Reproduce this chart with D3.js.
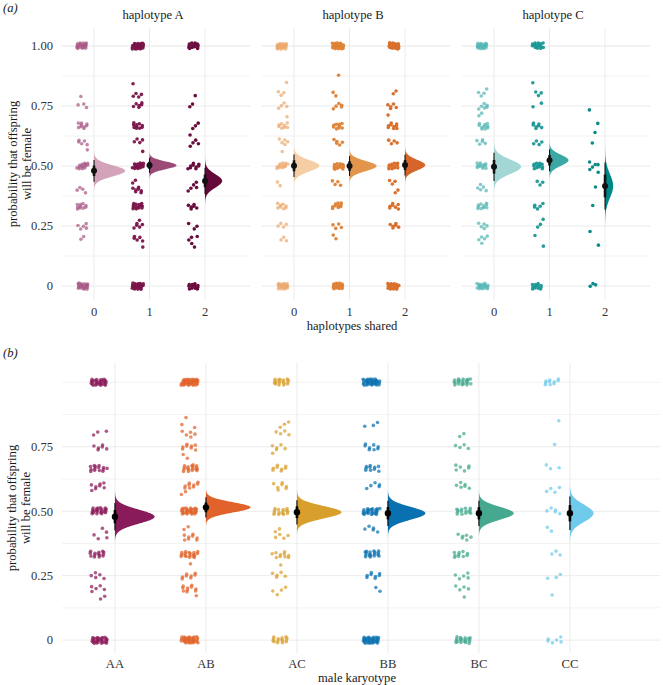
<!DOCTYPE html>
<html><head><meta charset="utf-8">
<script src="https://cdn.jsdelivr.net/npm/d3@7"></script>
<style>
body{margin:0;background:#fff}
svg{display:block}
</style>
</head><body><svg id="c" width="663" height="685" font-family="'Liberation Serif', 'Times New Roman', 'DejaVu Serif', serif"></svg>
<script>
// ---------------- DATA ----------------
const haplotypes = ["haplotype A", "haplotype B", "haplotype C"];
const sharedLevels = ["0", "1", "2"];
const karyotypes = ["AA", "AB", "AC", "BB", "BC", "CC"];
const yTicksA = [0, 0.25, 0.5, 0.75, 1];
const yTickLabelsA = ["0", "0.25", "0.50", "0.75", "1.00"];
const yTicksB = [0, 0.25, 0.5, 0.75];
const yTickLabelsB = ["0", "0.25", "0.50", "0.75"];
const yMinorGrid = [0.125, 0.375, 0.625, 0.875, 1];

// observations: [proportion female, number of males]
const hapA0 = [[1,22],[0.8,1],[0.75,3],[0.667,9],[0.6,5],[0.571,1],[0.5,14],[0.4,4],[0.333,10],[0.25,5],[0.2,2],[0,22]];
const hapA1 = [[1,28],[0.833,1],[0.8,4],[0.75,6],[0.667,10],[0.6,4],[0.571,1],[0.5,18],[0.429,2],[0.4,7],[0.333,14],[0.286,1],[0.25,5],[0.2,5],[0.167,1],[0,25]];
const hapA2 = [[1,14],[0.8,1],[0.75,2],[0.667,3],[0.625,1],[0.6,3],[0.571,1],[0.5,9],[0.429,2],[0.4,3],[0.333,6],[0.25,3],[0.2,3],[0.167,2],[0,12]];
const hapB0 = [[1,22],[0.857,1],[0.8,3],[0.75,4],[0.7,1],[0.667,8],[0.6,5],[0.556,1],[0.5,12],[0.429,2],[0.333,8],[0.25,4],[0.2,3],[0,20]];
const hapB1 = [[1,24],[0.875,1],[0.8,2],[0.75,5],[0.667,9],[0.6,5],[0.5,14],[0.429,4],[0.333,10],[0.25,4],[0.2,2],[0,20]];
const hapB2 = [[1,24],[0.8,2],[0.75,5],[0.7,1],[0.667,9],[0.6,4],[0.5,12],[0.429,3],[0.4,2],[0.333,7],[0.25,6],[0,20]];
const hapC0 = [[1,20],[0.833,1],[0.8,3],[0.75,6],[0.714,2],[0.667,10],[0.6,5],[0.5,12],[0.429,1],[0.4,4],[0.333,10],[0.25,5],[0.2,4],[0.167,1],[0,18]];
const hapC1 = [[1,16],[0.857,1],[0.8,3],[0.75,2],[0.667,7],[0.6,4],[0.5,12],[0.429,3],[0.333,5],[0.286,1],[0.25,2],[0.2,1],[0.167,1],[0,12]];
const hapC2 = [[0.738,1],[0.667,1],[0.64,1],[0.608,1],[0.514,2],[0.5,2],[0.475,2],[0.425,1],[0.333,1],[0.236,1],[0.164,1],[0.01,1],[0,2]];

const karAA = [[1,30],[0.8,3],[0.75,6],[0.667,14],[0.6,7],[0.571,1],[0.5,24],[0.429,2],[0.4,3],[0.333,14],[0.25,5],[0.2,5],[0.167,2],[0,30]];
const karAB = [[1,40],[0.875,1],[0.833,2],[0.8,5],[0.75,8],[0.714,2],[0.667,18],[0.6,9],[0.571,2],[0.5,30],[0.429,2],[0.4,8],[0.333,18],[0.286,1],[0.25,8],[0.2,10],[0.167,1],[0,35]];
const karAC = [[1,18],[0.857,1],[0.833,2],[0.8,4],[0.75,5],[0.714,1],[0.667,8],[0.6,6],[0.583,1],[0.5,15],[0.429,2],[0.4,4],[0.333,10],[0.286,1],[0.25,5],[0.2,3],[0.167,1],[0,15]];
const karBB = [[1,35],[0.833,3],[0.75,8],[0.667,10],[0.6,5],[0.5,25],[0.429,5],[0.333,18],[0.25,8],[0.2,2],[0,35]];
const karBC = [[1,22],[0.8,2],[0.75,4],[0.667,6],[0.6,6],[0.5,14],[0.4,6],[0.333,10],[0.25,5],[0.2,4],[0.18,1],[0,20]];
const karCC = [[1,10],[0.857,1],[0.75,1],[0.667,3],[0.583,4],[0.5,5],[0.429,2],[0.333,3],[0.25,3],[0.167,1],[0,6]];

// posterior summaries (mean, sd, relative slab peak)
const meanA = [[0.480, 0.503, 0.438], [0.501, 0.500, 0.504], [0.497, 0.524, 0.417]];
const sdA   = [[0.023, 0.016, 0.028], [0.024, 0.021, 0.022], [0.030, 0.023, 0.050]];
const peakA = [[1.00, 0.87, 0.55], [0.81, 0.87, 0.65], [0.87, 0.61, 0.26]];
const meanB = [0.479, 0.515, 0.496, 0.492, 0.492, 0.492];
const sdB   = [0.027, 0.020, 0.024, 0.025, 0.025, 0.033];
const peakB = [0.89, 1.00, 1.00, 0.84, 0.78, 0.53];

// ---------------- STYLE ----------------
const slabFillA = [["#d3a3b9", "#9b4a78", "#630a3b"], ["#f5cea6", "#e3954b", "#d5652a"], ["#a3d7d5", "#3ba8a4", "#008888"]];
const pointColA = [["#a85683", "#7a1449", "#6a0c3e"], ["#eba769", "#de8236", "#d9702c"], ["#4fb4b2", "#1b9896", "#0b8c8a"]];
const pointAlphaA = [0.7, 0.95, 1];
const colB = ["#8a1b5a", "#e1622a", "#d89f2c", "#0a71b0", "#44a98f", "#6fcaec"];

const svg = d3.select("#c");
const txt = "#1a1a1a", tickCol = "#333", grid = "#ebebeb";
const FS = 12.6;

const pointsAll = [hapA0, hapA1, hapA2, hapB0, hapB1, hapB2, hapC0, hapC1, hapC2];
const pointsB = [karAA, karAB, karAC, karBB, karBC, karCC];

function expand(arr) { const out = []; arr.forEach(([v, n]) => { for (let k = 0; k < n; k++) out.push(v); }); return out; }
function frac(x) { return x - Math.floor(x); }
function normShape(mean, sd) {
  const pts = [];
  for (let i = 0; i <= 120; i++) {
    const v = mean - 3.6 * sd + (7.2 * sd) * i / 120;
    const z = (v - mean) / sd;
    pts.push({ v, d: Math.exp(-0.5 * z * z) });
  }
  return pts;
}

// ---------------- PANEL (a) ----------------
const yA = d3.scaleLinear().domain([-0.058, 1.075]).range([300, 28]);
const facetX = [[62, 250], [262, 450], [462, 650]];
const slabMaxA = 0.56;

svg.append("text").attr("x", 3).attr("y", 12).attr("font-size", FS).attr("font-style", "italic").attr("fill", txt).text("(a)");

haplotypes.forEach((h, f) => {
  const x = d3.scaleLinear().domain([-0.577, 2.81]).range(facetX[f]);
  const g = svg.append("g");
  yMinorGrid.forEach(v => g.append("line").attr("x1", facetX[f][0]).attr("x2", facetX[f][1]).attr("y1", yA(v)).attr("y2", yA(v)).attr("stroke", grid).attr("stroke-width", 0.6));
  yTicksA.forEach(v => g.append("line").attr("x1", facetX[f][0]).attr("x2", facetX[f][1]).attr("y1", yA(v)).attr("y2", yA(v)).attr("stroke", grid).attr("stroke-width", 1));
  sharedLevels.forEach((s, i) => g.append("line").attr("x1", x(i)).attr("x2", x(i)).attr("y1", 28).attr("y2", 300).attr("stroke", grid).attr("stroke-width", 1));
  g.append("text").attr("x", (facetX[f][0] + facetX[f][1]) / 2 - 3).attr("y", 18.5).attr("text-anchor", "middle").attr("font-size", FS).attr("fill", txt).text(h);
  sharedLevels.forEach((s, i) => g.append("text").attr("x", x(i)).attr("y", 315.5).attr("text-anchor", "middle").attr("font-size", FS).attr("fill", tickCol).text(s));
  sharedLevels.forEach((s, i) => {
    const vals = expand(pointsAll[f * 3 + i]);
    const seed = (f * 3 + i) * 0.173;
    g.append("g").selectAll("circle").data(vals).join("circle")
      .attr("cx", (v, k) => x(i - 0.21 + (frac(seed + (k + 1) * 0.7548776662) * 2 - 1) * 0.1))
      .attr("cy", (v, k) => yA(v + (frac(seed * 2 + (k + 1) * 0.5698402910) * 2 - 1) * 0.013))
      .attr("r", 1.8)
      .attr("fill", pointColA[f][i]).attr("fill-opacity", pointAlphaA[i]);
  });
  sharedLevels.forEach((s, i) => {
    const m = meanA[f][i], sd = sdA[f][i], pk = peakA[f][i];
    const area = d3.area().x0(x(i)).x1(d => x(i + slabMaxA * pk * d.d)).y(d => yA(d.v));
    g.append("path").attr("d", area(normShape(m, sd))).attr("fill", slabFillA[f][i]);
    g.append("line").attr("x1", x(i)).attr("x2", x(i)).attr("y1", yA(m - 1.96 * sd)).attr("y2", yA(m + 1.96 * sd)).attr("stroke", "#111").attr("stroke-width", 1.1);
    g.append("line").attr("x1", x(i)).attr("x2", x(i)).attr("y1", yA(m - 0.95 * sd)).attr("y2", yA(m + 0.95 * sd)).attr("stroke", "#111").attr("stroke-width", 2.6);
    g.append("circle").attr("cx", x(i)).attr("cy", yA(m)).attr("r", 3).attr("fill", "#111");
  });
});
yTicksA.forEach((v, i) => svg.append("text").attr("x", 53).attr("y", yA(v) + 4.3).attr("text-anchor", "end").attr("font-size", FS).attr("fill", tickCol).text(yTickLabelsA[i]));
svg.append("text").attr("transform", "translate(17,164) rotate(-90)").attr("text-anchor", "middle").attr("font-size", FS).attr("fill", txt).text("probability that offspring");
svg.append("text").attr("transform", "translate(31,164) rotate(-90)").attr("text-anchor", "middle").attr("font-size", FS).attr("fill", txt).text("will be female");
svg.append("text").attr("x", 352).attr("y", 329.5).attr("text-anchor", "middle").attr("font-size", FS).attr("fill", txt).text("haplotypes shared");

// ---------------- PANEL (b) ----------------
const yB = d3.scaleLinear().domain([-0.05, 1.075]).range([653, 363]);
const xB = d3.scaleLinear().domain([-0.582, 5.99]).range([62, 660]);
const slabMaxB = 0.49;
const gb = svg.append("g");
svg.append("text").attr("x", 3).attr("y", 357).attr("font-size", FS).attr("font-style", "italic").attr("fill", txt).text("(b)");
yMinorGrid.forEach(v => gb.append("line").attr("x1", 62).attr("x2", 660).attr("y1", yB(v)).attr("y2", yB(v)).attr("stroke", grid).attr("stroke-width", 0.6));
yTicksB.forEach(v => gb.append("line").attr("x1", 62).attr("x2", 660).attr("y1", yB(v)).attr("y2", yB(v)).attr("stroke", grid).attr("stroke-width", 1));
karyotypes.forEach((k, i) => gb.append("line").attr("x1", xB(i)).attr("x2", xB(i)).attr("y1", 363).attr("y2", 653).attr("stroke", grid).attr("stroke-width", 1));
karyotypes.forEach((k, i) => {
  const vals = expand(pointsB[i]);
  const seed = i * 0.291 + 0.05;
  gb.append("g").selectAll("circle").data(vals).join("circle")
    .attr("cx", (v, j) => xB(i - 0.18 + (frac(seed + (j + 1) * 0.7548776662) * 2 - 1) * 0.093))
    .attr("cy", (v, j) => yB(v + (frac(seed * 2 + (j + 1) * 0.5698402910) * 2 - 1) * 0.013))
    .attr("r", 1.8)
    .attr("fill", colB[i]).attr("fill-opacity", 0.72);
});
karyotypes.forEach((k, i) => {
  const m = meanB[i], sd = sdB[i], pk = peakB[i];
  const area = d3.area().x0(xB(i)).x1(d => xB(i + slabMaxB * pk * d.d)).y(d => yB(d.v));
  gb.append("path").attr("d", area(normShape(m, sd))).attr("fill", colB[i]);
  gb.append("line").attr("x1", xB(i)).attr("x2", xB(i)).attr("y1", yB(m - 1.96 * sd)).attr("y2", yB(m + 1.96 * sd)).attr("stroke", "#000").attr("stroke-width", 1.1);
  gb.append("line").attr("x1", xB(i)).attr("x2", xB(i)).attr("y1", yB(m - 0.95 * sd)).attr("y2", yB(m + 0.95 * sd)).attr("stroke", "#000").attr("stroke-width", 2.6);
  gb.append("circle").attr("cx", xB(i)).attr("cy", yB(m)).attr("r", 3.2).attr("fill", "#000");
  gb.append("text").attr("x", xB(i)).attr("y", 667.5).attr("text-anchor", "middle").attr("font-size", FS).attr("fill", tickCol).text(k);
});
yTicksB.forEach((v, i) => svg.append("text").attr("x", 53).attr("y", yB(v) + 4.3).attr("text-anchor", "end").attr("font-size", FS).attr("fill", tickCol).text(yTickLabelsB[i]));
svg.append("text").attr("transform", "translate(16,508) rotate(-90)").attr("text-anchor", "middle").attr("font-size", FS).attr("fill", txt).text("probability that offspring");
svg.append("text").attr("transform", "translate(30,508) rotate(-90)").attr("text-anchor", "middle").attr("font-size", FS).attr("fill", txt).text("will be female");
svg.append("text").attr("x", 357).attr("y", 682).attr("text-anchor", "middle").attr("font-size", FS).attr("fill", txt).text("male karyotype");
</script></body></html>
